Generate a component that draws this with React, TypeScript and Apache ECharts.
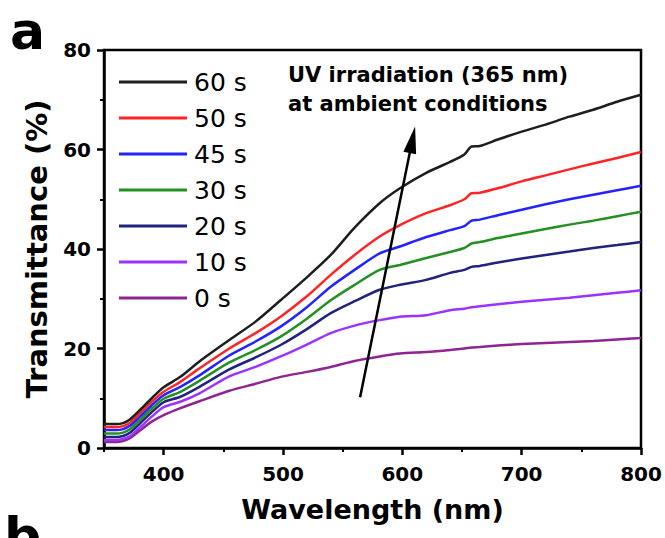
import React, { useEffect, useRef } from 'react';
import * as echarts from 'echarts';

// Wavelength grid (nm) shared by all spectra
const wavelengths = [350, 360, 366, 372, 380, 390, 400, 414, 430, 455, 477, 498, 520, 540, 560, 581, 598, 620, 640, 652, 658, 665, 680, 700, 720, 740, 760, 780, 800];

// Transmittance (%) after each UV exposure time
const t60 = [4.8, 4.8, 5.0, 5.8, 7.6, 10.0, 12.2, 14.3, 17.4, 21.7, 25.4, 29.7, 34.3, 38.8, 44.3, 49.2, 52.2, 55.3, 57.5, 59.0, 60.6, 60.7, 62.0, 63.6, 65.0, 66.6, 68.0, 69.6, 71.0];
const t50 = [4.2, 4.2, 4.4, 5.1, 7.0, 9.3, 11.3, 13.3, 16.0, 20.0, 23.1, 26.4, 30.5, 34.8, 38.8, 42.5, 44.8, 47.2, 48.8, 50.0, 51.2, 51.3, 52.2, 53.6, 54.8, 56.0, 57.2, 58.3, 59.5];
const t45 = [3.6, 3.6, 3.8, 4.5, 6.3, 8.6, 10.6, 12.3, 14.6, 18.6, 21.4, 24.4, 28.3, 32.4, 35.8, 39.1, 40.5, 42.4, 43.8, 44.6, 45.7, 45.9, 46.8, 47.9, 49.0, 50.0, 50.9, 51.8, 52.7];
const t30 = [2.9, 2.9, 3.1, 3.8, 5.6, 7.9, 9.9, 11.3, 13.5, 17.2, 19.7, 22.4, 26.0, 29.7, 32.8, 35.8, 36.8, 38.2, 39.4, 40.2, 41.1, 41.4, 42.2, 43.1, 44.0, 44.9, 45.7, 46.6, 47.5];
const t20 = [2.2, 2.2, 2.4, 3.1, 4.9, 7.2, 9.2, 10.3, 12.3, 15.8, 18.2, 20.7, 23.9, 27.1, 29.5, 31.8, 32.8, 33.8, 35.2, 35.8, 36.4, 36.6, 37.3, 38.1, 38.8, 39.5, 40.2, 40.8, 41.4];
const t10 = [1.6, 1.6, 1.8, 2.4, 4.1, 6.3, 8.2, 9.3, 11.0, 14.4, 16.3, 18.4, 20.8, 23.1, 24.6, 25.7, 26.4, 26.7, 27.7, 28.0, 28.3, 28.5, 28.9, 29.4, 29.8, 30.2, 30.7, 31.2, 31.7];
const t0 = [1.2, 1.2, 1.4, 2.0, 3.5, 5.3, 6.6, 8.0, 9.4, 11.5, 12.9, 14.3, 15.3, 16.3, 17.5, 18.4, 19.0, 19.3, 19.7, 20.0, 20.2, 20.3, 20.6, 20.9, 21.1, 21.3, 21.5, 21.8, 22.1];

const seriesNames = ['60 s', '50 s', '45 s', '30 s', '20 s', '10 s', '0 s'];
const seriesValues = [t60, t50, t45, t30, t20, t10, t0];
const seriesColors = ['#1e1e1e', '#ff2424', '#2323ff', '#229122', '#22227f', '#9b33ff', '#8e2592'];

// Axis ticks
const xMajorTicks = [400, 500, 600, 700, 800];
const xMinorTicks = [350, 450, 550, 650, 750];

// Annotation: arrow in data units (nm, %) and its caption
const arrowTail = [564.6, 10.2];
const arrowTip = [610.7, 64.6];
const captionLines = ['UV irradiation (365 nm)', 'at ambient conditions'];

const FONT = 'DejaVu Sans';

export default function App() {
  const ref = useRef<HTMLDivElement>(null);

  useEffect(() => {
    const chart = echarts.init(ref.current as HTMLDivElement, null, { renderer: 'svg' });
    const black = '#000';

    chart.setOption({
      animation: false,
      grid: {
        left: 104, right: 24, top: 50, bottom: 90,
        show: true, borderColor: black, borderWidth: 2.5, backgroundColor: 'transparent',
      },
      xAxis: [
        {
          type: 'value', min: 350, max: 800, position: 'bottom',
          name: 'Wavelength (nm)', nameLocation: 'middle', nameGap: 48,
          nameTextStyle: { fontFamily: FONT, fontWeight: 'bold', fontSize: 27, color: black },
          axisLine: { show: true, onZero: false, lineStyle: { color: black, width: 2.5 } },
          axisTick: { show: true, customValues: xMajorTicks, length: 7, lineStyle: { color: black, width: 2.5 } },
          axisLabel: { customValues: xMajorTicks, margin: 16, fontFamily: FONT, fontWeight: 'bold', fontSize: 20, color: black },
          splitLine: { show: false },
        },
        {
          type: 'value', min: 350, max: 800, position: 'bottom',
          axisLine: { show: false },
          axisTick: { show: true, customValues: xMinorTicks, length: 4, lineStyle: { color: black, width: 2 } },
          axisLabel: { show: false },
          splitLine: { show: false },
        },
      ],
      yAxis: {
        type: 'value', min: 0, max: 80, interval: 20,
        name: 'Transmittance (%)', nameLocation: 'middle', nameGap: 53, nameRotate: 90,
        nameTextStyle: { fontFamily: FONT, fontWeight: 'bold', fontSize: 29, color: black },
        axisLine: { show: true, onZero: false, lineStyle: { color: black, width: 2.5 } },
        axisTick: { show: true, length: 7, lineStyle: { color: black, width: 2.5 } },
        minorTick: { show: true, splitNumber: 2, length: 4, lineStyle: { color: black, width: 2 } },
        minorSplitLine: { show: false },
        axisLabel: { margin: 13, fontFamily: FONT, fontWeight: 'bold', fontSize: 20, color: black },
        splitLine: { show: false },
      },
      legend: {
        orient: 'vertical', left: 119, top: 69, padding: 0,
        icon: 'rect', itemWidth: 68, itemHeight: 3, itemGap: 10,
        data: seriesNames,
        textStyle: { fontFamily: FONT, fontSize: 25, color: black, lineHeight: 26, padding: [0, 0, 0, 2] },
      },
      series: seriesValues.map((vals, i) => ({
        name: seriesNames[i],
        type: 'line',
        xAxisIndex: 0,
        yAxisIndex: 0,
        data: wavelengths.map((w, j) => [w, vals[j]]),
        showSymbol: false,
        symbol: 'none',
        smooth: 0.25,
        lineStyle: { width: 2.5, color: seriesColors[i] },
        itemStyle: { color: seriesColors[i] },
        z: 2 + (seriesValues.length - i),
      })),
    });

    // Arrow and panel labels, placed after the axes exist so data units can be converted
    const p0 = chart.convertToPixel({ xAxisIndex: 0, yAxisIndex: 0 }, arrowTail) as number[];
    const p1 = chart.convertToPixel({ xAxisIndex: 0, yAxisIndex: 0 }, arrowTip) as number[];
    const dx = p1[0] - p0[0];
    const dy = p1[1] - p0[1];
    const len = Math.hypot(dx, dy);
    const ux = dx / len;
    const uy = dy / len;
    const headLen = 27;
    const headHalf = 6.5;
    const bx = p1[0] - ux * headLen;
    const by = p1[1] - uy * headLen;
    const nx = -uy;
    const ny = ux;

    chart.setOption({
      graphic: [
        {
          type: 'line', silent: true,
          shape: { x1: p0[0], y1: p0[1], x2: bx + ux * 2, y2: by + uy * 2 },
          style: { stroke: black, lineWidth: 2.5 },
          z: 20,
        },
        {
          type: 'polygon', silent: true,
          shape: { points: [[p1[0], p1[1]], [bx + nx * headHalf, by + ny * headHalf], [bx - nx * headHalf, by - ny * headHalf]] },
          style: { fill: black },
          z: 20,
        },
        {
          type: 'text', silent: true, x: 288, y: 75, z: 20,
          style: { text: captionLines[0], fontFamily: FONT, fontWeight: 'bold', fontSize: 21, fill: black, verticalAlign: 'middle' },
        },
        {
          type: 'text', silent: true, x: 288, y: 104, z: 20,
          style: { text: captionLines[1], fontFamily: FONT, fontWeight: 'bold', fontSize: 21, fill: black, verticalAlign: 'middle' },
        },
        {
          type: 'text', silent: true, x: 10, y: 31, z: 20,
          style: { text: 'a', fontFamily: FONT, fontWeight: 'bold', fontSize: 52, fill: black, verticalAlign: 'middle' },
        },
        {
          type: 'text', silent: true, x: 4, y: 536, z: 20,
          style: { text: 'b', fontFamily: FONT, fontWeight: 'bold', fontSize: 52, fill: black, verticalAlign: 'middle' },
        },
      ],
    });

    return () => chart.dispose();
  }, []);

  return (
    <div
      ref={ref}
      style={{ position: 'fixed', left: 0, top: 0, width: 665, height: 538, background: '#fff' }}
    />
  );
}
